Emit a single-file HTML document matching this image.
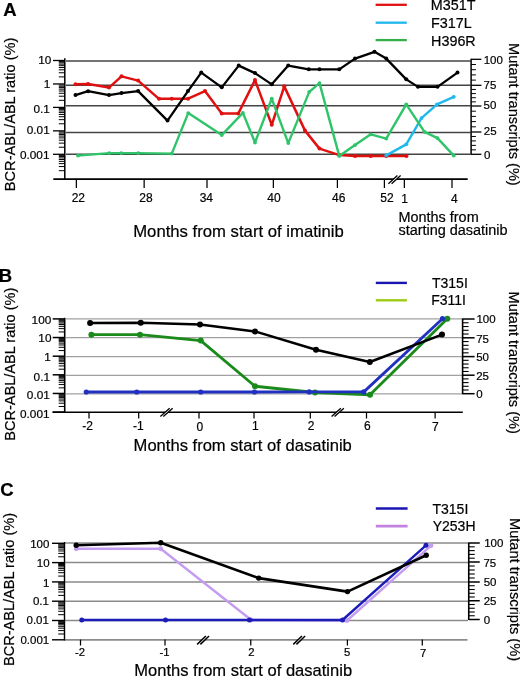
<!DOCTYPE html><html><head><meta charset="utf-8"><style>html,body{margin:0;padding:0;background:#fff;}svg{display:block;will-change:transform;}text{font-family:"Liberation Sans", sans-serif;stroke:#000;stroke-width:0.2px;}</style></head><body>
<svg width="520" height="676" viewBox="0 0 520 676">
<rect width="520" height="676" fill="#fff"/>
<text x="3.13" y="16.40" font-size="18.5" text-anchor="start" font-weight="bold" fill="#000">A</text>
<line x1="375.60" y1="4.80" x2="406.80" y2="4.80" stroke="#e01010" stroke-width="2.3" />
<line x1="375.60" y1="22.70" x2="406.80" y2="22.70" stroke="#20b8ec" stroke-width="2.3" />
<line x1="375.60" y1="40.10" x2="406.80" y2="40.10" stroke="#33ae48" stroke-width="2.3" />
<text x="430.80" y="9.88" font-size="14.35" text-anchor="start" font-weight="normal" fill="#000">M351T</text>
<text x="431.11" y="28.14" font-size="14.35" text-anchor="start" font-weight="normal" fill="#000">F317L</text>
<text x="431.07" y="46.01" font-size="14.35" text-anchor="start" font-weight="normal" fill="#000">H396R</text>
<line x1="66.00" y1="61.00" x2="470.50" y2="61.00" stroke="#444444" stroke-width="1.5" />
<line x1="66.00" y1="85.20" x2="470.50" y2="85.20" stroke="#444444" stroke-width="1.5" />
<line x1="66.00" y1="105.80" x2="470.50" y2="105.80" stroke="#444444" stroke-width="1.5" />
<line x1="66.00" y1="132.40" x2="470.50" y2="132.40" stroke="#444444" stroke-width="1.5" />
<line x1="66.00" y1="154.20" x2="470.50" y2="154.20" stroke="#444444" stroke-width="1.5" />
<line x1="64.80" y1="58.20" x2="64.80" y2="179.00" stroke="#000" stroke-width="1.5" />
<line x1="53.00" y1="60.50" x2="64.80" y2="60.50" stroke="#000" stroke-width="1.3" />
<line x1="53.00" y1="83.95" x2="64.80" y2="83.95" stroke="#000" stroke-width="1.3" />
<line x1="53.00" y1="107.40" x2="64.80" y2="107.40" stroke="#000" stroke-width="1.3" />
<line x1="53.00" y1="130.85" x2="64.80" y2="130.85" stroke="#000" stroke-width="1.3" />
<line x1="53.00" y1="154.30" x2="64.80" y2="154.30" stroke="#000" stroke-width="1.3" />
<line x1="58.80" y1="76.89" x2="64.80" y2="76.89" stroke="#000" stroke-width="1.0" />
<line x1="58.80" y1="72.76" x2="64.80" y2="72.76" stroke="#000" stroke-width="1.0" />
<line x1="58.80" y1="69.83" x2="64.80" y2="69.83" stroke="#000" stroke-width="1.0" />
<line x1="58.80" y1="67.56" x2="64.80" y2="67.56" stroke="#000" stroke-width="1.0" />
<line x1="58.80" y1="65.70" x2="64.80" y2="65.70" stroke="#000" stroke-width="1.0" />
<line x1="58.80" y1="64.13" x2="64.80" y2="64.13" stroke="#000" stroke-width="1.0" />
<line x1="58.80" y1="62.77" x2="64.80" y2="62.77" stroke="#000" stroke-width="1.0" />
<line x1="58.80" y1="61.57" x2="64.80" y2="61.57" stroke="#000" stroke-width="1.0" />
<line x1="58.80" y1="100.34" x2="64.80" y2="100.34" stroke="#000" stroke-width="1.0" />
<line x1="58.80" y1="96.21" x2="64.80" y2="96.21" stroke="#000" stroke-width="1.0" />
<line x1="58.80" y1="93.28" x2="64.80" y2="93.28" stroke="#000" stroke-width="1.0" />
<line x1="58.80" y1="91.01" x2="64.80" y2="91.01" stroke="#000" stroke-width="1.0" />
<line x1="58.80" y1="89.15" x2="64.80" y2="89.15" stroke="#000" stroke-width="1.0" />
<line x1="58.80" y1="87.58" x2="64.80" y2="87.58" stroke="#000" stroke-width="1.0" />
<line x1="58.80" y1="86.22" x2="64.80" y2="86.22" stroke="#000" stroke-width="1.0" />
<line x1="58.80" y1="85.02" x2="64.80" y2="85.02" stroke="#000" stroke-width="1.0" />
<line x1="58.80" y1="123.79" x2="64.80" y2="123.79" stroke="#000" stroke-width="1.0" />
<line x1="58.80" y1="119.66" x2="64.80" y2="119.66" stroke="#000" stroke-width="1.0" />
<line x1="58.80" y1="116.73" x2="64.80" y2="116.73" stroke="#000" stroke-width="1.0" />
<line x1="58.80" y1="114.46" x2="64.80" y2="114.46" stroke="#000" stroke-width="1.0" />
<line x1="58.80" y1="112.60" x2="64.80" y2="112.60" stroke="#000" stroke-width="1.0" />
<line x1="58.80" y1="111.03" x2="64.80" y2="111.03" stroke="#000" stroke-width="1.0" />
<line x1="58.80" y1="109.67" x2="64.80" y2="109.67" stroke="#000" stroke-width="1.0" />
<line x1="58.80" y1="108.47" x2="64.80" y2="108.47" stroke="#000" stroke-width="1.0" />
<line x1="58.80" y1="147.24" x2="64.80" y2="147.24" stroke="#000" stroke-width="1.0" />
<line x1="58.80" y1="143.11" x2="64.80" y2="143.11" stroke="#000" stroke-width="1.0" />
<line x1="58.80" y1="140.18" x2="64.80" y2="140.18" stroke="#000" stroke-width="1.0" />
<line x1="58.80" y1="137.91" x2="64.80" y2="137.91" stroke="#000" stroke-width="1.0" />
<line x1="58.80" y1="136.05" x2="64.80" y2="136.05" stroke="#000" stroke-width="1.0" />
<line x1="58.80" y1="134.48" x2="64.80" y2="134.48" stroke="#000" stroke-width="1.0" />
<line x1="58.80" y1="133.12" x2="64.80" y2="133.12" stroke="#000" stroke-width="1.0" />
<line x1="58.80" y1="131.92" x2="64.80" y2="131.92" stroke="#000" stroke-width="1.0" />
<line x1="58.80" y1="170.69" x2="64.80" y2="170.69" stroke="#000" stroke-width="1.0" />
<line x1="58.80" y1="166.56" x2="64.80" y2="166.56" stroke="#000" stroke-width="1.0" />
<line x1="58.80" y1="163.63" x2="64.80" y2="163.63" stroke="#000" stroke-width="1.0" />
<line x1="58.80" y1="161.36" x2="64.80" y2="161.36" stroke="#000" stroke-width="1.0" />
<line x1="58.80" y1="159.50" x2="64.80" y2="159.50" stroke="#000" stroke-width="1.0" />
<line x1="58.80" y1="157.93" x2="64.80" y2="157.93" stroke="#000" stroke-width="1.0" />
<line x1="58.80" y1="156.57" x2="64.80" y2="156.57" stroke="#000" stroke-width="1.0" />
<line x1="58.80" y1="155.37" x2="64.80" y2="155.37" stroke="#000" stroke-width="1.0" />
<text x="51.37" y="64.27" font-size="11.8" text-anchor="end" font-weight="normal" fill="#000">10</text>
<text x="50.28" y="87.70" font-size="11.8" text-anchor="end" font-weight="normal" fill="#000">1</text>
<text x="49.92" y="112.61" font-size="11.8" text-anchor="end" font-weight="normal" fill="#000">0.1</text>
<text x="49.75" y="133.82" font-size="11.8" text-anchor="end" font-weight="normal" fill="#000">0.01</text>
<text x="49.50" y="159.42" font-size="11.8" text-anchor="end" font-weight="normal" fill="#000">0.001</text>
<line x1="53.30" y1="179.10" x2="467.70" y2="179.10" stroke="#000" stroke-width="1.7" />
<line x1="76.35" y1="179.00" x2="76.35" y2="188.00" stroke="#000" stroke-width="1.25" />
<text x="78.33" y="202.22" font-size="12" text-anchor="middle" font-weight="normal" fill="#000">22</text>
<line x1="144.15" y1="179.00" x2="144.15" y2="188.00" stroke="#000" stroke-width="1.25" />
<text x="146.01" y="202.20" font-size="12" text-anchor="middle" font-weight="normal" fill="#000">28</text>
<line x1="207.00" y1="179.00" x2="207.00" y2="188.00" stroke="#000" stroke-width="1.25" />
<text x="206.36" y="202.19" font-size="12" text-anchor="middle" font-weight="normal" fill="#000">34</text>
<line x1="273.35" y1="179.00" x2="273.35" y2="188.00" stroke="#000" stroke-width="1.25" />
<text x="274.05" y="202.40" font-size="12" text-anchor="middle" font-weight="normal" fill="#000">40</text>
<line x1="337.40" y1="179.00" x2="337.40" y2="188.00" stroke="#000" stroke-width="1.25" />
<text x="338.76" y="202.27" font-size="12" text-anchor="middle" font-weight="normal" fill="#000">46</text>
<line x1="384.40" y1="179.00" x2="384.40" y2="188.00" stroke="#000" stroke-width="1.25" />
<text x="386.93" y="202.28" font-size="12" text-anchor="middle" font-weight="normal" fill="#000">52</text>
<line x1="404.35" y1="179.00" x2="404.35" y2="188.00" stroke="#000" stroke-width="1.25" />
<text x="404.66" y="202.76" font-size="12" text-anchor="middle" font-weight="normal" fill="#000">1</text>
<line x1="452.00" y1="179.00" x2="452.00" y2="188.00" stroke="#000" stroke-width="1.25" />
<text x="454.43" y="202.65" font-size="12" text-anchor="middle" font-weight="normal" fill="#000">4</text>
<polygon points="388.40,183.75 397.40,175.45 400.60,175.45 391.60,183.75" fill="#fff"/>
<line x1="388.40" y1="183.75" x2="397.40" y2="175.45" stroke="#000" stroke-width="1.3" />
<line x1="391.60" y1="183.75" x2="400.60" y2="175.45" stroke="#000" stroke-width="1.3" />
<text x="133.22" y="236.90" font-size="16.4" text-anchor="start" font-weight="normal" fill="#000" textLength="210.59" lengthAdjust="spacingAndGlyphs">Months from start of imatinib</text>
<text x="398.43" y="221.87" font-size="14.45" text-anchor="start" font-weight="normal" fill="#000">Months from</text>
<text x="398.43" y="235.37" font-size="14.45" text-anchor="start" font-weight="normal" fill="#000">starting dasatinib</text>
<line x1="471.10" y1="58.80" x2="471.10" y2="154.80" stroke="#000" stroke-width="1.5" />
<line x1="471.10" y1="59.30" x2="481.40" y2="59.30" stroke="#000" stroke-width="1.3" />
<line x1="471.10" y1="85.30" x2="481.40" y2="85.30" stroke="#000" stroke-width="1.3" />
<line x1="471.10" y1="106.00" x2="481.40" y2="106.00" stroke="#000" stroke-width="1.3" />
<line x1="471.10" y1="132.00" x2="481.40" y2="132.00" stroke="#000" stroke-width="1.3" />
<line x1="471.10" y1="154.30" x2="481.40" y2="154.30" stroke="#000" stroke-width="1.3" />
<line x1="471.10" y1="64.50" x2="475.90" y2="64.50" stroke="#000" stroke-width="1.0" />
<line x1="471.10" y1="69.70" x2="475.90" y2="69.70" stroke="#000" stroke-width="1.0" />
<line x1="471.10" y1="74.90" x2="475.90" y2="74.90" stroke="#000" stroke-width="1.0" />
<line x1="471.10" y1="80.10" x2="475.90" y2="80.10" stroke="#000" stroke-width="1.0" />
<line x1="471.10" y1="89.44" x2="475.90" y2="89.44" stroke="#000" stroke-width="1.0" />
<line x1="471.10" y1="93.58" x2="475.90" y2="93.58" stroke="#000" stroke-width="1.0" />
<line x1="471.10" y1="97.72" x2="475.90" y2="97.72" stroke="#000" stroke-width="1.0" />
<line x1="471.10" y1="101.86" x2="475.90" y2="101.86" stroke="#000" stroke-width="1.0" />
<line x1="471.10" y1="111.20" x2="475.90" y2="111.20" stroke="#000" stroke-width="1.0" />
<line x1="471.10" y1="116.40" x2="475.90" y2="116.40" stroke="#000" stroke-width="1.0" />
<line x1="471.10" y1="121.60" x2="475.90" y2="121.60" stroke="#000" stroke-width="1.0" />
<line x1="471.10" y1="126.80" x2="475.90" y2="126.80" stroke="#000" stroke-width="1.0" />
<line x1="471.10" y1="136.46" x2="475.90" y2="136.46" stroke="#000" stroke-width="1.0" />
<line x1="471.10" y1="140.92" x2="475.90" y2="140.92" stroke="#000" stroke-width="1.0" />
<line x1="471.10" y1="145.38" x2="475.90" y2="145.38" stroke="#000" stroke-width="1.0" />
<line x1="471.10" y1="149.84" x2="475.90" y2="149.84" stroke="#000" stroke-width="1.0" />
<text x="483.68" y="63.74" font-size="11.5" text-anchor="start" font-weight="normal" fill="#000">100</text>
<text x="483.59" y="88.61" font-size="11.5" text-anchor="start" font-weight="normal" fill="#000">75</text>
<text x="483.56" y="109.45" font-size="11.5" text-anchor="start" font-weight="normal" fill="#000">50</text>
<text x="483.78" y="134.87" font-size="11.5" text-anchor="start" font-weight="normal" fill="#000">25</text>
<text x="483.88" y="158.55" font-size="11.5" text-anchor="start" font-weight="normal" fill="#000">0</text>
<text transform="translate(14.80,114.40) rotate(-90)" font-size="14.5" text-anchor="middle" font-weight="normal" fill="#000" textLength="153.51" lengthAdjust="spacingAndGlyphs">BCR-ABL/ABL ratio (%)</text>
<text transform="translate(508.80,114.39) rotate(90)" font-size="14.5" text-anchor="middle" font-weight="normal" fill="#000" textLength="142.68" lengthAdjust="spacingAndGlyphs">Mutant transcripts (%)</text>
<polyline points="75.50,84.35 88.10,84.10 109.00,87.60 121.50,76.35 138.10,80.60 159.00,98.85 171.75,98.70 188.10,98.70 205.00,91.10 221.75,113.60 238.25,113.60 255.00,80.10 271.75,124.85 284.25,86.35 305.00,130.60 319.50,148.60 339.25,155.10 355.00,156.10 370.75,156.10 386.25,156.10 406.50,156.10" fill="none" stroke="#e01010" stroke-width="2.5" stroke-linejoin="round" stroke-linecap="round"/>
<circle cx="75.50" cy="84.35" r="2.0" fill="#e01010"/>
<circle cx="88.10" cy="84.10" r="2.0" fill="#e01010"/>
<circle cx="109.00" cy="87.60" r="2.0" fill="#e01010"/>
<circle cx="121.50" cy="76.35" r="2.0" fill="#e01010"/>
<circle cx="138.10" cy="80.60" r="2.0" fill="#e01010"/>
<circle cx="159.00" cy="98.85" r="2.0" fill="#e01010"/>
<circle cx="171.75" cy="98.70" r="2.0" fill="#e01010"/>
<circle cx="188.10" cy="98.70" r="2.0" fill="#e01010"/>
<circle cx="205.00" cy="91.10" r="2.0" fill="#e01010"/>
<circle cx="221.75" cy="113.60" r="2.0" fill="#e01010"/>
<circle cx="238.25" cy="113.60" r="2.0" fill="#e01010"/>
<circle cx="255.00" cy="80.10" r="2.0" fill="#e01010"/>
<circle cx="271.75" cy="124.85" r="2.0" fill="#e01010"/>
<circle cx="284.25" cy="86.35" r="2.0" fill="#e01010"/>
<circle cx="305.00" cy="130.60" r="2.0" fill="#e01010"/>
<circle cx="319.50" cy="148.60" r="2.0" fill="#e01010"/>
<circle cx="339.25" cy="155.10" r="2.0" fill="#e01010"/>
<circle cx="355.00" cy="156.10" r="2.0" fill="#e01010"/>
<circle cx="370.75" cy="156.10" r="2.0" fill="#e01010"/>
<circle cx="386.25" cy="156.10" r="2.0" fill="#e01010"/>
<circle cx="406.50" cy="156.10" r="2.0" fill="#e01010"/>
<polyline points="386.25,155.40 406.25,144.35 421.50,118.10 437.00,104.35 453.75,96.85" fill="none" stroke="#20b8ec" stroke-width="2.4" stroke-linejoin="round" stroke-linecap="round"/>
<circle cx="386.25" cy="155.40" r="1.9" fill="#20b8ec"/>
<circle cx="406.25" cy="144.35" r="1.9" fill="#20b8ec"/>
<circle cx="421.50" cy="118.10" r="1.9" fill="#20b8ec"/>
<circle cx="437.00" cy="104.35" r="1.9" fill="#20b8ec"/>
<circle cx="453.75" cy="96.85" r="1.9" fill="#20b8ec"/>
<polyline points="78.00,155.60 109.25,153.10 121.25,153.10 138.25,153.10 171.75,153.60 188.25,113.10 221.75,135.10 242.90,112.90 255.00,142.60 271.75,98.60 288.25,143.10 309.25,91.85 319.50,83.10 339.25,155.90 355.00,145.10 370.75,134.35 386.25,138.60 406.25,104.35 424.50,131.85 437.50,138.10 453.75,155.60" fill="none" stroke="#2fc46a" stroke-width="2.4" stroke-linejoin="round" stroke-linecap="round"/>
<circle cx="78.00" cy="155.60" r="1.9" fill="#2fc46a"/>
<circle cx="109.25" cy="153.10" r="1.9" fill="#2fc46a"/>
<circle cx="121.25" cy="153.10" r="1.9" fill="#2fc46a"/>
<circle cx="138.25" cy="153.10" r="1.9" fill="#2fc46a"/>
<circle cx="171.75" cy="153.60" r="1.9" fill="#2fc46a"/>
<circle cx="188.25" cy="113.10" r="1.9" fill="#2fc46a"/>
<circle cx="221.75" cy="135.10" r="1.9" fill="#2fc46a"/>
<circle cx="242.90" cy="112.90" r="1.9" fill="#2fc46a"/>
<circle cx="255.00" cy="142.60" r="1.9" fill="#2fc46a"/>
<circle cx="271.75" cy="98.60" r="1.9" fill="#2fc46a"/>
<circle cx="288.25" cy="143.10" r="1.9" fill="#2fc46a"/>
<circle cx="309.25" cy="91.85" r="1.9" fill="#2fc46a"/>
<circle cx="319.50" cy="83.10" r="1.9" fill="#2fc46a"/>
<circle cx="339.25" cy="155.90" r="1.9" fill="#2fc46a"/>
<circle cx="355.00" cy="145.10" r="1.9" fill="#2fc46a"/>
<circle cx="370.75" cy="134.35" r="1.9" fill="#2fc46a"/>
<circle cx="386.25" cy="138.60" r="1.9" fill="#2fc46a"/>
<circle cx="406.25" cy="104.35" r="1.9" fill="#2fc46a"/>
<circle cx="424.50" cy="131.85" r="1.9" fill="#2fc46a"/>
<circle cx="437.50" cy="138.10" r="1.9" fill="#2fc46a"/>
<circle cx="453.75" cy="155.60" r="1.9" fill="#2fc46a"/>
<polyline points="75.50,95.10 88.10,91.20 109.00,95.10 121.50,93.10 138.10,91.10 167.50,120.60 188.00,91.10 201.25,72.60 221.75,87.35 238.75,65.60 255.00,73.10 271.75,84.35 288.25,65.60 308.75,69.35 319.50,69.35 339.25,69.35 355.00,58.60 374.50,51.85 386.25,58.60 406.25,79.35 418.00,86.85 437.50,86.85 457.50,72.60" fill="none" stroke="#000" stroke-width="2.3" stroke-linejoin="round" stroke-linecap="round"/>
<circle cx="75.50" cy="95.10" r="2.0" fill="#000"/>
<circle cx="88.10" cy="91.20" r="2.0" fill="#000"/>
<circle cx="109.00" cy="95.10" r="2.0" fill="#000"/>
<circle cx="121.50" cy="93.10" r="2.0" fill="#000"/>
<circle cx="138.10" cy="91.10" r="2.0" fill="#000"/>
<circle cx="167.50" cy="120.60" r="2.0" fill="#000"/>
<circle cx="188.00" cy="91.10" r="2.0" fill="#000"/>
<circle cx="201.25" cy="72.60" r="2.0" fill="#000"/>
<circle cx="221.75" cy="87.35" r="2.0" fill="#000"/>
<circle cx="238.75" cy="65.60" r="2.0" fill="#000"/>
<circle cx="255.00" cy="73.10" r="2.0" fill="#000"/>
<circle cx="271.75" cy="84.35" r="2.0" fill="#000"/>
<circle cx="288.25" cy="65.60" r="2.0" fill="#000"/>
<circle cx="308.75" cy="69.35" r="2.0" fill="#000"/>
<circle cx="319.50" cy="69.35" r="2.0" fill="#000"/>
<circle cx="339.25" cy="69.35" r="2.0" fill="#000"/>
<circle cx="355.00" cy="58.60" r="2.0" fill="#000"/>
<circle cx="374.50" cy="51.85" r="2.0" fill="#000"/>
<circle cx="386.25" cy="58.60" r="2.0" fill="#000"/>
<circle cx="406.25" cy="79.35" r="2.0" fill="#000"/>
<circle cx="418.00" cy="86.85" r="2.0" fill="#000"/>
<circle cx="437.50" cy="86.85" r="2.0" fill="#000"/>
<circle cx="457.50" cy="72.60" r="2.0" fill="#000"/>
<text x="-1.18" y="281.88" font-size="18.5" text-anchor="start" font-weight="bold" fill="#000">B</text>
<line x1="375.80" y1="282.90" x2="406.90" y2="282.90" stroke="#1a14b0" stroke-width="2.4" />
<line x1="375.80" y1="300.30" x2="406.90" y2="300.30" stroke="#9ccc14" stroke-width="2.4" />
<text x="432.01" y="287.74" font-size="14" text-anchor="start" font-weight="normal" fill="#000">T315I</text>
<text x="431.20" y="305.32" font-size="14" text-anchor="start" font-weight="normal" fill="#000">F311I</text>
<line x1="66.00" y1="318.75" x2="462.00" y2="318.75" stroke="#a0a0a0" stroke-width="1.25" />
<line x1="66.00" y1="337.60" x2="462.00" y2="337.60" stroke="#a0a0a0" stroke-width="1.25" />
<line x1="66.00" y1="356.60" x2="462.00" y2="356.60" stroke="#a0a0a0" stroke-width="1.25" />
<line x1="66.00" y1="375.30" x2="462.00" y2="375.30" stroke="#a0a0a0" stroke-width="1.25" />
<line x1="66.00" y1="393.80" x2="462.00" y2="393.80" stroke="#a0a0a0" stroke-width="1.25" />
<line x1="64.70" y1="317.80" x2="64.70" y2="412.20" stroke="#000" stroke-width="1.6" />
<line x1="52.70" y1="318.90" x2="64.70" y2="318.90" stroke="#000" stroke-width="1.5" />
<line x1="52.70" y1="337.54" x2="64.70" y2="337.54" stroke="#000" stroke-width="1.5" />
<line x1="52.70" y1="356.18" x2="64.70" y2="356.18" stroke="#000" stroke-width="1.5" />
<line x1="52.70" y1="374.82" x2="64.70" y2="374.82" stroke="#000" stroke-width="1.5" />
<line x1="52.70" y1="393.46" x2="64.70" y2="393.46" stroke="#000" stroke-width="1.5" />
<line x1="52.70" y1="412.10" x2="64.70" y2="412.10" stroke="#000" stroke-width="1.5" />
<line x1="58.70" y1="331.93" x2="64.70" y2="331.93" stroke="#000" stroke-width="1" />
<line x1="58.70" y1="328.65" x2="64.70" y2="328.65" stroke="#000" stroke-width="1" />
<line x1="58.70" y1="326.32" x2="64.70" y2="326.32" stroke="#000" stroke-width="1" />
<line x1="58.70" y1="324.51" x2="64.70" y2="324.51" stroke="#000" stroke-width="1" />
<line x1="58.70" y1="323.04" x2="64.70" y2="323.04" stroke="#000" stroke-width="1" />
<line x1="58.70" y1="321.79" x2="64.70" y2="321.79" stroke="#000" stroke-width="1" />
<line x1="58.70" y1="320.71" x2="64.70" y2="320.71" stroke="#000" stroke-width="1" />
<line x1="58.70" y1="319.75" x2="64.70" y2="319.75" stroke="#000" stroke-width="1" />
<line x1="58.70" y1="350.57" x2="64.70" y2="350.57" stroke="#000" stroke-width="1" />
<line x1="58.70" y1="347.29" x2="64.70" y2="347.29" stroke="#000" stroke-width="1" />
<line x1="58.70" y1="344.96" x2="64.70" y2="344.96" stroke="#000" stroke-width="1" />
<line x1="58.70" y1="343.15" x2="64.70" y2="343.15" stroke="#000" stroke-width="1" />
<line x1="58.70" y1="341.68" x2="64.70" y2="341.68" stroke="#000" stroke-width="1" />
<line x1="58.70" y1="340.43" x2="64.70" y2="340.43" stroke="#000" stroke-width="1" />
<line x1="58.70" y1="339.35" x2="64.70" y2="339.35" stroke="#000" stroke-width="1" />
<line x1="58.70" y1="338.39" x2="64.70" y2="338.39" stroke="#000" stroke-width="1" />
<line x1="58.70" y1="369.21" x2="64.70" y2="369.21" stroke="#000" stroke-width="1" />
<line x1="58.70" y1="365.93" x2="64.70" y2="365.93" stroke="#000" stroke-width="1" />
<line x1="58.70" y1="363.60" x2="64.70" y2="363.60" stroke="#000" stroke-width="1" />
<line x1="58.70" y1="361.79" x2="64.70" y2="361.79" stroke="#000" stroke-width="1" />
<line x1="58.70" y1="360.32" x2="64.70" y2="360.32" stroke="#000" stroke-width="1" />
<line x1="58.70" y1="359.07" x2="64.70" y2="359.07" stroke="#000" stroke-width="1" />
<line x1="58.70" y1="357.99" x2="64.70" y2="357.99" stroke="#000" stroke-width="1" />
<line x1="58.70" y1="357.03" x2="64.70" y2="357.03" stroke="#000" stroke-width="1" />
<line x1="58.70" y1="387.85" x2="64.70" y2="387.85" stroke="#000" stroke-width="1" />
<line x1="58.70" y1="384.57" x2="64.70" y2="384.57" stroke="#000" stroke-width="1" />
<line x1="58.70" y1="382.24" x2="64.70" y2="382.24" stroke="#000" stroke-width="1" />
<line x1="58.70" y1="380.43" x2="64.70" y2="380.43" stroke="#000" stroke-width="1" />
<line x1="58.70" y1="378.96" x2="64.70" y2="378.96" stroke="#000" stroke-width="1" />
<line x1="58.70" y1="377.71" x2="64.70" y2="377.71" stroke="#000" stroke-width="1" />
<line x1="58.70" y1="376.63" x2="64.70" y2="376.63" stroke="#000" stroke-width="1" />
<line x1="58.70" y1="375.67" x2="64.70" y2="375.67" stroke="#000" stroke-width="1" />
<line x1="58.70" y1="406.49" x2="64.70" y2="406.49" stroke="#000" stroke-width="1" />
<line x1="58.70" y1="403.21" x2="64.70" y2="403.21" stroke="#000" stroke-width="1" />
<line x1="58.70" y1="400.88" x2="64.70" y2="400.88" stroke="#000" stroke-width="1" />
<line x1="58.70" y1="399.07" x2="64.70" y2="399.07" stroke="#000" stroke-width="1" />
<line x1="58.70" y1="397.60" x2="64.70" y2="397.60" stroke="#000" stroke-width="1" />
<line x1="58.70" y1="396.35" x2="64.70" y2="396.35" stroke="#000" stroke-width="1" />
<line x1="58.70" y1="395.27" x2="64.70" y2="395.27" stroke="#000" stroke-width="1" />
<line x1="58.70" y1="394.31" x2="64.70" y2="394.31" stroke="#000" stroke-width="1" />
<text x="51.28" y="323.75" font-size="11.8" text-anchor="end" font-weight="normal" fill="#000">100</text>
<text x="51.47" y="342.43" font-size="11.8" text-anchor="end" font-weight="normal" fill="#000">10</text>
<text x="50.72" y="361.35" font-size="11.8" text-anchor="end" font-weight="normal" fill="#000">1</text>
<text x="50.02" y="380.96" font-size="11.8" text-anchor="end" font-weight="normal" fill="#000">0.1</text>
<text x="49.81" y="399.15" font-size="11.8" text-anchor="end" font-weight="normal" fill="#000">0.01</text>
<text x="49.57" y="417.95" font-size="11.8" text-anchor="end" font-weight="normal" fill="#000">0.001</text>
<line x1="52.50" y1="412.20" x2="462.80" y2="412.20" stroke="#000" stroke-width="1.6" />
<line x1="89.00" y1="412.20" x2="89.00" y2="418.50" stroke="#000" stroke-width="1.25" />
<text x="87.71" y="430.29" font-size="12" text-anchor="middle" font-weight="normal" fill="#000">-2</text>
<line x1="138.70" y1="412.20" x2="138.70" y2="418.50" stroke="#000" stroke-width="1.25" />
<text x="138.25" y="430.30" font-size="12" text-anchor="middle" font-weight="normal" fill="#000">-1</text>
<line x1="199.00" y1="412.20" x2="199.00" y2="418.50" stroke="#000" stroke-width="1.25" />
<text x="199.74" y="430.53" font-size="12" text-anchor="middle" font-weight="normal" fill="#000">0</text>
<line x1="254.00" y1="412.20" x2="254.00" y2="418.50" stroke="#000" stroke-width="1.25" />
<text x="255.22" y="430.16" font-size="12" text-anchor="middle" font-weight="normal" fill="#000">1</text>
<line x1="310.30" y1="412.20" x2="310.30" y2="418.50" stroke="#000" stroke-width="1.25" />
<text x="311.14" y="430.30" font-size="12" text-anchor="middle" font-weight="normal" fill="#000">2</text>
<line x1="366.50" y1="412.20" x2="366.50" y2="418.50" stroke="#000" stroke-width="1.25" />
<text x="367.31" y="430.36" font-size="12" text-anchor="middle" font-weight="normal" fill="#000">6</text>
<line x1="435.10" y1="412.20" x2="435.10" y2="418.50" stroke="#000" stroke-width="1.25" />
<text x="435.23" y="430.64" font-size="12" text-anchor="middle" font-weight="normal" fill="#000">7</text>
<polygon points="160.35,416.45 169.65,408.15 172.65,408.15 163.35,416.45" fill="#fff"/>
<line x1="160.35" y1="416.45" x2="169.65" y2="408.15" stroke="#000" stroke-width="1.3" />
<line x1="163.35" y1="416.45" x2="172.65" y2="408.15" stroke="#000" stroke-width="1.3" />
<polygon points="331.55,416.45 340.85,408.15 343.85,408.15 334.55,416.45" fill="#fff"/>
<line x1="331.55" y1="416.45" x2="340.85" y2="408.15" stroke="#000" stroke-width="1.3" />
<line x1="334.55" y1="416.45" x2="343.85" y2="408.15" stroke="#000" stroke-width="1.3" />
<text x="133.62" y="451.45" font-size="16.4" text-anchor="start" font-weight="normal" fill="#000" textLength="218.19" lengthAdjust="spacingAndGlyphs">Months from start of dasatinib</text>
<line x1="462.60" y1="318.50" x2="462.60" y2="394.20" stroke="#000" stroke-width="1.6" />
<line x1="462.60" y1="319.00" x2="474.60" y2="319.00" stroke="#000" stroke-width="1.5" />
<line x1="462.60" y1="337.80" x2="474.60" y2="337.80" stroke="#000" stroke-width="1.5" />
<line x1="462.60" y1="356.60" x2="474.60" y2="356.60" stroke="#000" stroke-width="1.5" />
<line x1="462.60" y1="375.20" x2="474.60" y2="375.20" stroke="#000" stroke-width="1.5" />
<line x1="462.60" y1="393.70" x2="474.60" y2="393.70" stroke="#000" stroke-width="1.5" />
<line x1="462.60" y1="322.76" x2="468.60" y2="322.76" stroke="#000" stroke-width="1.1" />
<line x1="462.60" y1="326.52" x2="468.60" y2="326.52" stroke="#000" stroke-width="1.1" />
<line x1="462.60" y1="330.28" x2="468.60" y2="330.28" stroke="#000" stroke-width="1.1" />
<line x1="462.60" y1="334.04" x2="468.60" y2="334.04" stroke="#000" stroke-width="1.1" />
<line x1="462.60" y1="341.56" x2="468.60" y2="341.56" stroke="#000" stroke-width="1.1" />
<line x1="462.60" y1="345.32" x2="468.60" y2="345.32" stroke="#000" stroke-width="1.1" />
<line x1="462.60" y1="349.08" x2="468.60" y2="349.08" stroke="#000" stroke-width="1.1" />
<line x1="462.60" y1="352.84" x2="468.60" y2="352.84" stroke="#000" stroke-width="1.1" />
<line x1="462.60" y1="360.32" x2="468.60" y2="360.32" stroke="#000" stroke-width="1.1" />
<line x1="462.60" y1="364.04" x2="468.60" y2="364.04" stroke="#000" stroke-width="1.1" />
<line x1="462.60" y1="367.76" x2="468.60" y2="367.76" stroke="#000" stroke-width="1.1" />
<line x1="462.60" y1="371.48" x2="468.60" y2="371.48" stroke="#000" stroke-width="1.1" />
<line x1="462.60" y1="378.90" x2="468.60" y2="378.90" stroke="#000" stroke-width="1.1" />
<line x1="462.60" y1="382.60" x2="468.60" y2="382.60" stroke="#000" stroke-width="1.1" />
<line x1="462.60" y1="386.30" x2="468.60" y2="386.30" stroke="#000" stroke-width="1.1" />
<line x1="462.60" y1="390.00" x2="468.60" y2="390.00" stroke="#000" stroke-width="1.1" />
<text x="476.42" y="323.08" font-size="11.5" text-anchor="start" font-weight="normal" fill="#000">100</text>
<text x="476.21" y="342.67" font-size="11.5" text-anchor="start" font-weight="normal" fill="#000">75</text>
<text x="476.14" y="361.44" font-size="11.5" text-anchor="start" font-weight="normal" fill="#000">50</text>
<text x="476.16" y="379.71" font-size="11.5" text-anchor="start" font-weight="normal" fill="#000">25</text>
<text x="476.23" y="398.16" font-size="11.5" text-anchor="start" font-weight="normal" fill="#000">0</text>
<text transform="translate(14.60,364.25) rotate(-90)" font-size="14.5" text-anchor="middle" font-weight="normal" fill="#000" textLength="153.02" lengthAdjust="spacingAndGlyphs">BCR-ABL/ABL ratio (%)</text>
<text transform="translate(509.20,362.65) rotate(90)" font-size="14.5" text-anchor="middle" font-weight="normal" fill="#000" textLength="142.21" lengthAdjust="spacingAndGlyphs">Mutant transcripts (%)</text>
<polyline points="91.40,334.70 140.00,334.70 200.75,340.60 255.00,386.25 315.00,392.50 370.00,394.80 447.30,318.70" fill="none" stroke="#1a8a1a" stroke-width="2.8" stroke-linejoin="round" stroke-linecap="round"/>
<circle cx="91.40" cy="334.70" r="3.0" fill="#1a8a1a"/>
<circle cx="140.00" cy="334.70" r="3.0" fill="#1a8a1a"/>
<circle cx="200.75" cy="340.60" r="3.0" fill="#1a8a1a"/>
<circle cx="255.00" cy="386.25" r="3.0" fill="#1a8a1a"/>
<circle cx="315.00" cy="392.50" r="3.0" fill="#1a8a1a"/>
<circle cx="370.00" cy="394.80" r="3.0" fill="#1a8a1a"/>
<circle cx="447.30" cy="318.70" r="3.0" fill="#1a8a1a"/>
<polyline points="86.25,392.00 136.75,392.00 200.75,392.00 254.50,392.00 309.20,391.90 363.80,391.90 442.50,318.70" fill="none" stroke="#2030c0" stroke-width="2.8" stroke-linejoin="round" stroke-linecap="round"/>
<circle cx="86.25" cy="392.00" r="2.6" fill="#2030c0"/>
<circle cx="136.75" cy="392.00" r="2.6" fill="#2030c0"/>
<circle cx="200.75" cy="392.00" r="2.6" fill="#2030c0"/>
<circle cx="254.50" cy="392.00" r="2.6" fill="#2030c0"/>
<circle cx="309.20" cy="391.90" r="2.6" fill="#2030c0"/>
<circle cx="363.80" cy="391.90" r="2.6" fill="#2030c0"/>
<circle cx="442.50" cy="318.70" r="2.6" fill="#2030c0"/>
<polyline points="90.10,323.00 140.75,322.80 200.00,324.40 255.00,331.40 316.00,349.80 369.80,362.00 442.00,334.60" fill="none" stroke="#000" stroke-width="2.5" stroke-linejoin="round" stroke-linecap="round"/>
<circle cx="90.10" cy="323.00" r="3.0" fill="#000"/>
<circle cx="140.75" cy="322.80" r="3.0" fill="#000"/>
<circle cx="200.00" cy="324.40" r="3.0" fill="#000"/>
<circle cx="255.00" cy="331.40" r="3.0" fill="#000"/>
<circle cx="316.00" cy="349.80" r="3.0" fill="#000"/>
<circle cx="369.80" cy="362.00" r="3.0" fill="#000"/>
<circle cx="442.00" cy="334.60" r="3.0" fill="#000"/>
<text x="0.15" y="495.92" font-size="18.5" text-anchor="start" font-weight="bold" fill="#000">C</text>
<line x1="375.80" y1="508.50" x2="407.60" y2="508.50" stroke="#1a14b0" stroke-width="2.6" />
<line x1="375.80" y1="526.10" x2="407.60" y2="526.10" stroke="#c282e0" stroke-width="2.6" />
<text x="432.51" y="513.94" font-size="14" text-anchor="start" font-weight="normal" fill="#000">T315I</text>
<text x="432.70" y="531.12" font-size="14" text-anchor="start" font-weight="normal" fill="#000">Y253H</text>
<line x1="65.00" y1="543.00" x2="468.00" y2="543.00" stroke="#8a8a8a" stroke-width="1.4" />
<line x1="65.00" y1="562.50" x2="468.00" y2="562.50" stroke="#8a8a8a" stroke-width="1.4" />
<line x1="65.00" y1="582.00" x2="468.00" y2="582.00" stroke="#8a8a8a" stroke-width="1.4" />
<line x1="65.00" y1="601.25" x2="468.00" y2="601.25" stroke="#8a8a8a" stroke-width="1.4" />
<line x1="65.00" y1="620.50" x2="468.00" y2="620.50" stroke="#8a8a8a" stroke-width="1.4" />
<line x1="64.50" y1="639.90" x2="467.50" y2="639.90" stroke="#8c8c8c" stroke-width="1.9" />
<line x1="64.50" y1="542.00" x2="64.50" y2="640.50" stroke="#000" stroke-width="1.4" />
<line x1="52.00" y1="543.30" x2="64.50" y2="543.30" stroke="#000" stroke-width="1.4" />
<line x1="52.00" y1="562.60" x2="64.50" y2="562.60" stroke="#000" stroke-width="1.4" />
<line x1="52.00" y1="581.90" x2="64.50" y2="581.90" stroke="#000" stroke-width="1.4" />
<line x1="52.00" y1="601.20" x2="64.50" y2="601.20" stroke="#000" stroke-width="1.4" />
<line x1="52.00" y1="620.50" x2="64.50" y2="620.50" stroke="#000" stroke-width="1.4" />
<line x1="52.00" y1="639.80" x2="64.50" y2="639.80" stroke="#000" stroke-width="1.4" />
<line x1="58.20" y1="556.79" x2="64.50" y2="556.79" stroke="#000" stroke-width="1" />
<line x1="58.20" y1="553.39" x2="64.50" y2="553.39" stroke="#000" stroke-width="1" />
<line x1="58.20" y1="550.98" x2="64.50" y2="550.98" stroke="#000" stroke-width="1" />
<line x1="58.20" y1="549.11" x2="64.50" y2="549.11" stroke="#000" stroke-width="1" />
<line x1="58.20" y1="547.58" x2="64.50" y2="547.58" stroke="#000" stroke-width="1" />
<line x1="58.20" y1="546.29" x2="64.50" y2="546.29" stroke="#000" stroke-width="1" />
<line x1="58.20" y1="545.17" x2="64.50" y2="545.17" stroke="#000" stroke-width="1" />
<line x1="58.20" y1="544.18" x2="64.50" y2="544.18" stroke="#000" stroke-width="1" />
<line x1="58.20" y1="576.09" x2="64.50" y2="576.09" stroke="#000" stroke-width="1" />
<line x1="58.20" y1="572.69" x2="64.50" y2="572.69" stroke="#000" stroke-width="1" />
<line x1="58.20" y1="570.28" x2="64.50" y2="570.28" stroke="#000" stroke-width="1" />
<line x1="58.20" y1="568.41" x2="64.50" y2="568.41" stroke="#000" stroke-width="1" />
<line x1="58.20" y1="566.88" x2="64.50" y2="566.88" stroke="#000" stroke-width="1" />
<line x1="58.20" y1="565.59" x2="64.50" y2="565.59" stroke="#000" stroke-width="1" />
<line x1="58.20" y1="564.47" x2="64.50" y2="564.47" stroke="#000" stroke-width="1" />
<line x1="58.20" y1="563.48" x2="64.50" y2="563.48" stroke="#000" stroke-width="1" />
<line x1="58.20" y1="595.39" x2="64.50" y2="595.39" stroke="#000" stroke-width="1" />
<line x1="58.20" y1="591.99" x2="64.50" y2="591.99" stroke="#000" stroke-width="1" />
<line x1="58.20" y1="589.58" x2="64.50" y2="589.58" stroke="#000" stroke-width="1" />
<line x1="58.20" y1="587.71" x2="64.50" y2="587.71" stroke="#000" stroke-width="1" />
<line x1="58.20" y1="586.18" x2="64.50" y2="586.18" stroke="#000" stroke-width="1" />
<line x1="58.20" y1="584.89" x2="64.50" y2="584.89" stroke="#000" stroke-width="1" />
<line x1="58.20" y1="583.77" x2="64.50" y2="583.77" stroke="#000" stroke-width="1" />
<line x1="58.20" y1="582.78" x2="64.50" y2="582.78" stroke="#000" stroke-width="1" />
<line x1="58.20" y1="614.69" x2="64.50" y2="614.69" stroke="#000" stroke-width="1" />
<line x1="58.20" y1="611.29" x2="64.50" y2="611.29" stroke="#000" stroke-width="1" />
<line x1="58.20" y1="608.88" x2="64.50" y2="608.88" stroke="#000" stroke-width="1" />
<line x1="58.20" y1="607.01" x2="64.50" y2="607.01" stroke="#000" stroke-width="1" />
<line x1="58.20" y1="605.48" x2="64.50" y2="605.48" stroke="#000" stroke-width="1" />
<line x1="58.20" y1="604.19" x2="64.50" y2="604.19" stroke="#000" stroke-width="1" />
<line x1="58.20" y1="603.07" x2="64.50" y2="603.07" stroke="#000" stroke-width="1" />
<line x1="58.20" y1="602.08" x2="64.50" y2="602.08" stroke="#000" stroke-width="1" />
<line x1="58.20" y1="633.99" x2="64.50" y2="633.99" stroke="#000" stroke-width="1" />
<line x1="58.20" y1="630.59" x2="64.50" y2="630.59" stroke="#000" stroke-width="1" />
<line x1="58.20" y1="628.18" x2="64.50" y2="628.18" stroke="#000" stroke-width="1" />
<line x1="58.20" y1="626.31" x2="64.50" y2="626.31" stroke="#000" stroke-width="1" />
<line x1="58.20" y1="624.78" x2="64.50" y2="624.78" stroke="#000" stroke-width="1" />
<line x1="58.20" y1="623.49" x2="64.50" y2="623.49" stroke="#000" stroke-width="1" />
<line x1="58.20" y1="622.37" x2="64.50" y2="622.37" stroke="#000" stroke-width="1" />
<line x1="58.20" y1="621.38" x2="64.50" y2="621.38" stroke="#000" stroke-width="1" />
<text x="49.37" y="547.94" font-size="11.5" text-anchor="end" font-weight="normal" fill="#000">100</text>
<text x="49.59" y="566.64" font-size="11.5" text-anchor="end" font-weight="normal" fill="#000">10</text>
<text x="49.49" y="586.69" font-size="11.5" text-anchor="end" font-weight="normal" fill="#000">1</text>
<text x="48.97" y="604.65" font-size="11.5" text-anchor="end" font-weight="normal" fill="#000">0.1</text>
<text x="48.93" y="624.40" font-size="11.5" text-anchor="end" font-weight="normal" fill="#000">0.01</text>
<text x="49.26" y="644.32" font-size="11.5" text-anchor="end" font-weight="normal" fill="#000">0.001</text>
<line x1="80.50" y1="639.60" x2="80.50" y2="645.50" stroke="#000" stroke-width="1.25" />
<text x="80.11" y="656.31" font-size="11.3" text-anchor="middle" font-weight="normal" fill="#000">-2</text>
<line x1="165.00" y1="639.60" x2="165.00" y2="645.50" stroke="#000" stroke-width="1.25" />
<text x="164.55" y="656.34" font-size="11.3" text-anchor="middle" font-weight="normal" fill="#000">-1</text>
<line x1="250.75" y1="639.60" x2="250.75" y2="645.50" stroke="#000" stroke-width="1.25" />
<text x="251.50" y="656.26" font-size="11.3" text-anchor="middle" font-weight="normal" fill="#000">2</text>
<line x1="347.40" y1="639.60" x2="347.40" y2="645.50" stroke="#000" stroke-width="1.25" />
<text x="347.26" y="656.43" font-size="11.3" text-anchor="middle" font-weight="normal" fill="#000">5</text>
<line x1="422.30" y1="639.60" x2="422.30" y2="645.50" stroke="#000" stroke-width="1.25" />
<text x="423.26" y="656.60" font-size="11.3" text-anchor="middle" font-weight="normal" fill="#000">7</text>
<polygon points="197.15,644.40 205.85,636.00 209.05,636.00 200.35,644.40" fill="#fff"/>
<line x1="197.15" y1="644.40" x2="205.85" y2="636.00" stroke="#000" stroke-width="1.5" />
<line x1="200.35" y1="644.40" x2="209.05" y2="636.00" stroke="#000" stroke-width="1.5" />
<polygon points="293.25,644.40 301.95,636.00 305.15,636.00 296.45,644.40" fill="#fff"/>
<line x1="293.25" y1="644.40" x2="301.95" y2="636.00" stroke="#000" stroke-width="1.5" />
<line x1="296.45" y1="644.40" x2="305.15" y2="636.00" stroke="#000" stroke-width="1.5" />
<text x="134.23" y="675.52" font-size="16.4" text-anchor="start" font-weight="normal" fill="#000" textLength="217.90" lengthAdjust="spacingAndGlyphs">Months from start of dasatinib</text>
<line x1="468.75" y1="542.50" x2="468.75" y2="620.00" stroke="#000" stroke-width="1.6" />
<line x1="468.75" y1="543.00" x2="479.75" y2="543.00" stroke="#000" stroke-width="1.5" />
<line x1="468.75" y1="562.00" x2="479.75" y2="562.00" stroke="#000" stroke-width="1.5" />
<line x1="468.75" y1="582.00" x2="479.75" y2="582.00" stroke="#000" stroke-width="1.5" />
<line x1="468.75" y1="600.75" x2="479.75" y2="600.75" stroke="#000" stroke-width="1.5" />
<line x1="468.75" y1="619.50" x2="479.75" y2="619.50" stroke="#000" stroke-width="1.5" />
<line x1="468.75" y1="546.80" x2="474.75" y2="546.80" stroke="#000" stroke-width="1.1" />
<line x1="468.75" y1="550.60" x2="474.75" y2="550.60" stroke="#000" stroke-width="1.1" />
<line x1="468.75" y1="554.40" x2="474.75" y2="554.40" stroke="#000" stroke-width="1.1" />
<line x1="468.75" y1="558.20" x2="474.75" y2="558.20" stroke="#000" stroke-width="1.1" />
<line x1="468.75" y1="566.00" x2="474.75" y2="566.00" stroke="#000" stroke-width="1.1" />
<line x1="468.75" y1="570.00" x2="474.75" y2="570.00" stroke="#000" stroke-width="1.1" />
<line x1="468.75" y1="574.00" x2="474.75" y2="574.00" stroke="#000" stroke-width="1.1" />
<line x1="468.75" y1="578.00" x2="474.75" y2="578.00" stroke="#000" stroke-width="1.1" />
<line x1="468.75" y1="585.75" x2="474.75" y2="585.75" stroke="#000" stroke-width="1.1" />
<line x1="468.75" y1="589.50" x2="474.75" y2="589.50" stroke="#000" stroke-width="1.1" />
<line x1="468.75" y1="593.25" x2="474.75" y2="593.25" stroke="#000" stroke-width="1.1" />
<line x1="468.75" y1="597.00" x2="474.75" y2="597.00" stroke="#000" stroke-width="1.1" />
<line x1="468.75" y1="604.50" x2="474.75" y2="604.50" stroke="#000" stroke-width="1.1" />
<line x1="468.75" y1="608.25" x2="474.75" y2="608.25" stroke="#000" stroke-width="1.1" />
<line x1="468.75" y1="612.00" x2="474.75" y2="612.00" stroke="#000" stroke-width="1.1" />
<line x1="468.75" y1="615.75" x2="474.75" y2="615.75" stroke="#000" stroke-width="1.1" />
<text x="484.20" y="547.35" font-size="11.5" text-anchor="start" font-weight="normal" fill="#000">100</text>
<text x="483.46" y="566.53" font-size="11.5" text-anchor="start" font-weight="normal" fill="#000">75</text>
<text x="483.67" y="585.91" font-size="11.5" text-anchor="start" font-weight="normal" fill="#000">50</text>
<text x="483.65" y="605.49" font-size="11.5" text-anchor="start" font-weight="normal" fill="#000">25</text>
<text x="483.74" y="623.92" font-size="11.5" text-anchor="start" font-weight="normal" fill="#000">0</text>
<text transform="translate(14.20,589.48) rotate(-90)" font-size="14.5" text-anchor="middle" font-weight="normal" fill="#000" textLength="153.10" lengthAdjust="spacingAndGlyphs">BCR-ABL/ABL ratio (%)</text>
<text transform="translate(510.00,589.53) rotate(90)" font-size="14.5" text-anchor="middle" font-weight="normal" fill="#000" textLength="143.12" lengthAdjust="spacingAndGlyphs">Mutant transcripts (%)</text>
<polyline points="76.25,548.75 160.75,548.75 251.25,620.00 347.00,620.50 431.00,545.60" fill="none" stroke="#c49cf0" stroke-width="2.4" stroke-linejoin="round" stroke-linecap="round"/>
<circle cx="76.25" cy="548.75" r="2.4" fill="#c49cf0"/>
<circle cx="160.75" cy="548.75" r="2.4" fill="#c49cf0"/>
<circle cx="251.25" cy="620.00" r="2.4" fill="#c49cf0"/>
<circle cx="347.00" cy="620.50" r="2.4" fill="#c49cf0"/>
<circle cx="431.00" cy="545.60" r="2.4" fill="#c49cf0"/>
<polyline points="81.75,620.00 165.50,620.00 249.50,620.00 342.50,620.00 426.00,545.30" fill="none" stroke="#1c1cb8" stroke-width="2.4" stroke-linejoin="round" stroke-linecap="round"/>
<circle cx="81.75" cy="620.00" r="2.5" fill="#1c1cb8"/>
<circle cx="165.50" cy="620.00" r="2.5" fill="#1c1cb8"/>
<circle cx="249.50" cy="620.00" r="2.5" fill="#1c1cb8"/>
<circle cx="342.50" cy="620.00" r="2.5" fill="#1c1cb8"/>
<circle cx="426.00" cy="545.30" r="2.5" fill="#1c1cb8"/>
<polyline points="76.25,545.20 160.75,542.80 258.75,578.10 347.50,591.60 426.25,555.20" fill="none" stroke="#000" stroke-width="2.6" stroke-linejoin="round" stroke-linecap="round"/>
<circle cx="76.25" cy="545.20" r="2.7" fill="#000"/>
<circle cx="160.75" cy="542.80" r="2.7" fill="#000"/>
<circle cx="258.75" cy="578.10" r="2.7" fill="#000"/>
<circle cx="347.50" cy="591.60" r="2.7" fill="#000"/>
<circle cx="426.25" cy="555.20" r="2.7" fill="#000"/>
</svg></body></html>
